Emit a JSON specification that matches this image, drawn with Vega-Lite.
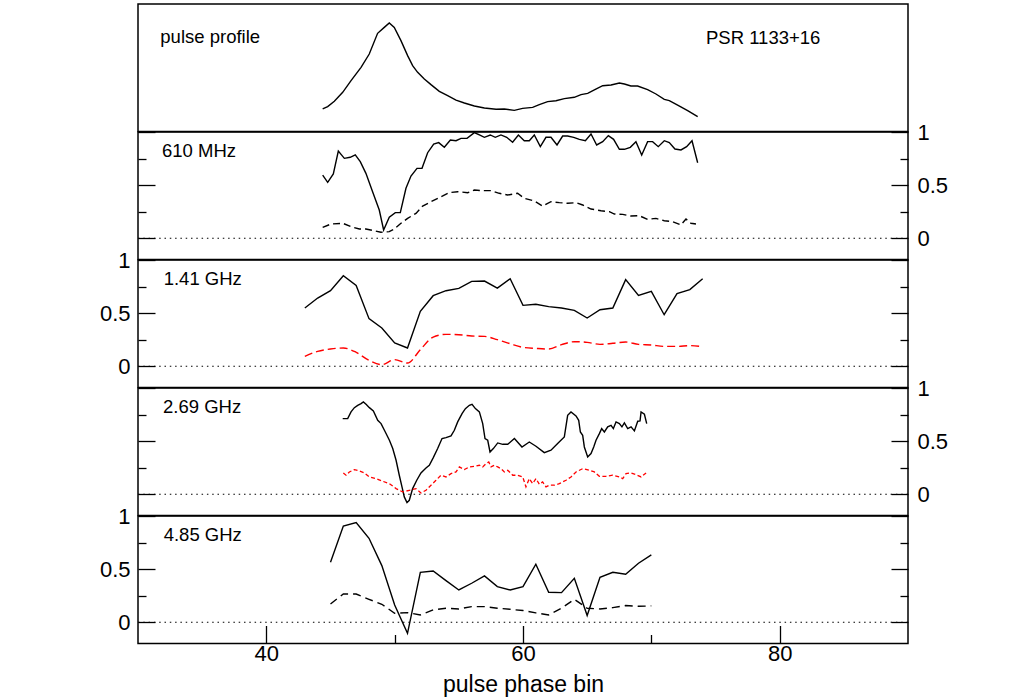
{
  "$schema": "https://vega.github.io/schema/vega-lite/v6.json",
  "padding": {"left": 98, "top": 3, "right": 5, "bottom": 2},
  "spacing": 0,
  "bounds": "flush",
  "datasets": {
    "profile": [
      {"x":44.39,"v":0.012},{"x":44.78,"v":0.034},{"x":45.30,"v":0.084},{"x":45.95,"v":0.169},{"x":46.60,"v":0.278},{"x":47.38,"v":0.404},{"x":48.02,"v":0.529},{"x":48.67,"v":0.724},{"x":49.19,"v":0.780},{"x":49.58,"v":0.821},{"x":49.97,"v":0.780},{"x":50.49,"v":0.655},{"x":51.01,"v":0.514},{"x":51.40,"v":0.420},{"x":51.79,"v":0.357},{"x":52.31,"v":0.294},{"x":52.83,"v":0.241},{"x":53.48,"v":0.178},{"x":54.13,"v":0.137},{"x":54.78,"v":0.096},{"x":55.43,"v":0.068},{"x":56.21,"v":0.040},{"x":56.99,"v":0.021},{"x":57.90,"v":0.009},{"x":58.54,"v":0.012},{"x":59.32,"v":-0.001},{"x":59.97,"v":0.018},{"x":60.75,"v":0.027},{"x":61.27,"v":0.053},{"x":61.92,"v":0.081},{"x":62.57,"v":0.090},{"x":63.22,"v":0.109},{"x":64.00,"v":0.122},{"x":64.52,"v":0.147},{"x":65.04,"v":0.159},{"x":65.56,"v":0.191},{"x":66.21,"v":0.231},{"x":66.86,"v":0.238},{"x":67.51,"v":0.256},{"x":67.90,"v":0.247},{"x":68.41,"v":0.228},{"x":68.93,"v":0.228},{"x":69.71,"v":0.194},{"x":70.36,"v":0.153},{"x":71.01,"v":0.103},{"x":71.40,"v":0.090},{"x":72.05,"v":0.049},{"x":72.83,"v":-0.004},{"x":73.61,"v":-0.060}
    ],
    "f610_tot": [
      {"x":44.39,"v":0.595},{"x":44.78,"v":0.526},{"x":45.22,"v":0.605},{"x":45.61,"v":0.821},{"x":46.08,"v":0.752},{"x":46.54,"v":0.762},{"x":46.93,"v":0.784},{"x":47.32,"v":0.721},{"x":47.76,"v":0.611},{"x":48.28,"v":0.438},{"x":48.80,"v":0.266},{"x":49.14,"v":0.078},{"x":49.58,"v":0.197},{"x":50.05,"v":0.241},{"x":50.44,"v":0.241},{"x":50.88,"v":0.470},{"x":51.27,"v":0.586},{"x":51.74,"v":0.658},{"x":52.13,"v":0.658},{"x":52.57,"v":0.805},{"x":53.04,"v":0.887},{"x":53.43,"v":0.900},{"x":53.87,"v":0.856},{"x":54.34,"v":0.925},{"x":54.78,"v":0.918},{"x":55.17,"v":0.940},{"x":55.64,"v":0.940},{"x":56.21,"v":0.994},{"x":56.60,"v":0.972},{"x":56.99,"v":0.950},{"x":57.45,"v":0.972},{"x":57.84,"v":0.950},{"x":58.28,"v":0.972},{"x":58.73,"v":0.950},{"x":59.19,"v":0.903},{"x":59.64,"v":0.972},{"x":60.10,"v":0.918},{"x":60.49,"v":0.918},{"x":60.88,"v":0.972},{"x":61.35,"v":0.862},{"x":61.79,"v":0.950},{"x":62.18,"v":0.950},{"x":62.65,"v":0.878},{"x":63.09,"v":0.962},{"x":63.48,"v":0.962},{"x":63.95,"v":0.950},{"x":64.39,"v":0.931},{"x":64.86,"v":0.918},{"x":65.30,"v":0.981},{"x":65.74,"v":0.878},{"x":66.21,"v":0.909},{"x":66.65,"v":0.966},{"x":67.06,"v":0.931},{"x":67.51,"v":0.837},{"x":67.90,"v":0.837},{"x":68.36,"v":0.856},{"x":68.80,"v":0.909},{"x":69.25,"v":0.784},{"x":69.71,"v":0.909},{"x":70.10,"v":0.909},{"x":70.54,"v":0.862},{"x":71.01,"v":0.918},{"x":71.40,"v":0.900},{"x":71.84,"v":0.840},{"x":72.31,"v":0.831},{"x":72.75,"v":0.862},{"x":73.17,"v":0.918},{"x":73.61,"v":0.711}
    ],
    "f610_lin": [
      {"x":44.39,"v":0.103},{"x":45.04,"v":0.134},{"x":45.95,"v":0.141},{"x":46.60,"v":0.109},{"x":47.25,"v":0.087},{"x":47.76,"v":0.087},{"x":48.41,"v":0.071},{"x":48.93,"v":0.056},{"x":49.58,"v":0.062},{"x":49.97,"v":0.087},{"x":50.49,"v":0.141},{"x":51.01,"v":0.187},{"x":51.66,"v":0.234},{"x":52.18,"v":0.303},{"x":52.83,"v":0.344},{"x":53.61,"v":0.391},{"x":54.26,"v":0.429},{"x":54.91,"v":0.438},{"x":55.69,"v":0.429},{"x":56.21,"v":0.454},{"x":56.86,"v":0.448},{"x":57.51,"v":0.448},{"x":58.15,"v":0.423},{"x":58.80,"v":0.407},{"x":59.58,"v":0.423},{"x":60.10,"v":0.376},{"x":60.88,"v":0.351},{"x":61.53,"v":0.303},{"x":62.18,"v":0.344},{"x":62.83,"v":0.335},{"x":63.48,"v":0.329},{"x":64.13,"v":0.335},{"x":64.65,"v":0.313},{"x":65.30,"v":0.275},{"x":66.08,"v":0.259},{"x":66.73,"v":0.250},{"x":67.12,"v":0.228},{"x":67.77,"v":0.225},{"x":68.41,"v":0.209},{"x":69.06,"v":0.212},{"x":69.71,"v":0.178},{"x":70.36,"v":0.187},{"x":71.01,"v":0.165},{"x":71.66,"v":0.156},{"x":72.31,"v":0.125},{"x":72.70,"v":0.181},{"x":73.09,"v":0.141},{"x":73.48,"v":0.134}
    ],
    "f141_tot": [
      {"x":43,"v":0.548},{"x":44,"v":0.642},{"x":45,"v":0.711},{"x":46,"v":0.852},{"x":47,"v":0.761},{"x":48,"v":0.448},{"x":49,"v":0.360},{"x":50,"v":0.219},{"x":51,"v":0.172},{"x":52,"v":0.517},{"x":53,"v":0.664},{"x":54,"v":0.711},{"x":55,"v":0.733},{"x":56,"v":0.799},{"x":57,"v":0.802},{"x":58,"v":0.736},{"x":59,"v":0.824},{"x":60,"v":0.573},{"x":61,"v":0.583},{"x":62,"v":0.561},{"x":63,"v":0.548},{"x":64,"v":0.526},{"x":65,"v":0.454},{"x":66,"v":0.532},{"x":67,"v":0.548},{"x":68,"v":0.815},{"x":69,"v":0.667},{"x":70,"v":0.705},{"x":71,"v":0.485},{"x":72,"v":0.683},{"x":73,"v":0.721},{"x":74,"v":0.824}
    ],
    "f141_lin": [
      {"x":43,"v":0.093},{"x":44,"v":0.140},{"x":45,"v":0.162},{"x":46,"v":0.172},{"x":47,"v":0.131},{"x":48,"v":0.056},{"x":49,"v":0.015},{"x":50,"v":0.062},{"x":51,"v":0.030},{"x":52,"v":0.156},{"x":53,"v":0.275},{"x":54,"v":0.300},{"x":55,"v":0.297},{"x":56,"v":0.285},{"x":57,"v":0.281},{"x":58,"v":0.250},{"x":59,"v":0.212},{"x":60,"v":0.178},{"x":61,"v":0.168},{"x":62,"v":0.162},{"x":63,"v":0.203},{"x":64,"v":0.231},{"x":65,"v":0.225},{"x":66,"v":0.206},{"x":67,"v":0.216},{"x":68,"v":0.228},{"x":69,"v":0.206},{"x":70,"v":0.200},{"x":71,"v":0.187},{"x":72,"v":0.187},{"x":73,"v":0.194},{"x":74,"v":0.184}
    ],
    "f269_tot": [
      {"x":45.95,"v":0.712},{"x":46.34,"v":0.712},{"x":46.60,"v":0.775},{"x":46.86,"v":0.815},{"x":47.12,"v":0.837},{"x":47.38,"v":0.853},{"x":47.56,"v":0.869},{"x":47.77,"v":0.847},{"x":48.03,"v":0.815},{"x":48.34,"v":0.784},{"x":48.68,"v":0.696},{"x":48.94,"v":0.665},{"x":49.27,"v":0.586},{"x":49.59,"v":0.508},{"x":49.85,"v":0.430},{"x":50.11,"v":0.320},{"x":50.36,"v":0.179},{"x":50.57,"v":0.069},{"x":50.75,"v":-0.025},{"x":50.96,"v":-0.079},{"x":51.14,"v":-0.057},{"x":51.40,"v":0.053},{"x":51.72,"v":0.132},{"x":52.05,"v":0.201},{"x":52.44,"v":0.248},{"x":52.70,"v":0.273},{"x":53.01,"v":0.345},{"x":53.35,"v":0.430},{"x":53.69,"v":0.524},{"x":54.00,"v":0.533},{"x":54.39,"v":0.549},{"x":54.65,"v":0.602},{"x":54.91,"v":0.681},{"x":55.25,"v":0.759},{"x":55.51,"v":0.806},{"x":55.82,"v":0.837},{"x":56.03,"v":0.847},{"x":56.29,"v":0.806},{"x":56.60,"v":0.775},{"x":56.86,"v":0.665},{"x":57.04,"v":0.524},{"x":57.25,"v":0.508},{"x":57.43,"v":0.398},{"x":57.69,"v":0.430},{"x":58.03,"v":0.483},{"x":58.42,"v":0.470},{"x":58.81,"v":0.470},{"x":59.33,"v":0.524},{"x":59.92,"v":0.445},{"x":60.49,"v":0.492},{"x":61.01,"v":0.452},{"x":61.66,"v":0.392},{"x":62.18,"v":0.414},{"x":62.70,"v":0.477},{"x":63.22,"v":0.539},{"x":63.48,"v":0.743},{"x":63.74,"v":0.775},{"x":64.13,"v":0.737},{"x":64.34,"v":0.696},{"x":64.47,"v":0.586},{"x":64.65,"v":0.555},{"x":64.78,"v":0.445},{"x":65.04,"v":0.351},{"x":65.30,"v":0.383},{"x":65.51,"v":0.445},{"x":65.69,"v":0.508},{"x":65.95,"v":0.571},{"x":66.13,"v":0.618},{"x":66.34,"v":0.586},{"x":66.60,"v":0.634},{"x":66.86,"v":0.649},{"x":67.04,"v":0.618},{"x":67.25,"v":0.681},{"x":67.51,"v":0.665},{"x":67.71,"v":0.634},{"x":67.90,"v":0.671},{"x":68.16,"v":0.618},{"x":68.42,"v":0.634},{"x":68.68,"v":0.596},{"x":68.94,"v":0.687},{"x":69.12,"v":0.690},{"x":69.20,"v":0.775},{"x":69.46,"v":0.753},{"x":69.64,"v":0.665}
    ],
    "f269_lin": [
      {"x":46.00,"v":0.201},{"x":46.21,"v":0.179},{"x":46.47,"v":0.210},{"x":46.86,"v":0.232},{"x":47.25,"v":0.219},{"x":47.64,"v":0.201},{"x":48.03,"v":0.163},{"x":48.55,"v":0.147},{"x":49.07,"v":0.122},{"x":49.59,"v":0.100},{"x":50.11,"v":0.053},{"x":50.62,"v":0.022},{"x":51.14,"v":0.037},{"x":51.66,"v":0.053},{"x":52.05,"v":0.012},{"x":52.44,"v":0.037},{"x":52.83,"v":0.085},{"x":53.22,"v":0.132},{"x":53.61,"v":0.179},{"x":54.00,"v":0.163},{"x":54.39,"v":0.194},{"x":54.78,"v":0.210},{"x":55.04,"v":0.257},{"x":55.43,"v":0.232},{"x":55.82,"v":0.257},{"x":56.21,"v":0.263},{"x":56.60,"v":0.273},{"x":56.86,"v":0.257},{"x":57.12,"v":0.288},{"x":57.33,"v":0.304},{"x":57.51,"v":0.257},{"x":57.77,"v":0.273},{"x":58.03,"v":0.257},{"x":58.29,"v":0.241},{"x":58.55,"v":0.210},{"x":58.81,"v":0.226},{"x":59.20,"v":0.179},{"x":59.59,"v":0.179},{"x":59.98,"v":0.163},{"x":60.23,"v":0.069},{"x":60.49,"v":0.147},{"x":60.75,"v":0.100},{"x":61.01,"v":0.147},{"x":61.27,"v":0.094},{"x":61.53,"v":0.116},{"x":61.79,"v":0.069},{"x":62.05,"v":0.085},{"x":62.44,"v":0.085},{"x":62.83,"v":0.100},{"x":63.35,"v":0.132},{"x":63.74,"v":0.163},{"x":64.13,"v":0.210},{"x":64.65,"v":0.241},{"x":65.17,"v":0.226},{"x":65.56,"v":0.210},{"x":65.95,"v":0.169},{"x":66.47,"v":0.169},{"x":66.99,"v":0.179},{"x":67.51,"v":0.163},{"x":67.77,"v":0.147},{"x":68.03,"v":0.194},{"x":68.42,"v":0.201},{"x":68.81,"v":0.185},{"x":69.20,"v":0.163},{"x":69.59,"v":0.201}
    ],
    "f485_tot": [
      {"x":45,"v":0.565},{"x":46,"v":0.906},{"x":47,"v":0.938},{"x":48,"v":0.790},{"x":49,"v":0.533},{"x":50,"v":0.163},{"x":51,"v":-0.104},{"x":52,"v":0.470},{"x":53,"v":0.483},{"x":54,"v":0.392},{"x":55,"v":0.304},{"x":56,"v":0.367},{"x":57,"v":0.436},{"x":58,"v":0.335},{"x":59,"v":0.304},{"x":60,"v":0.335},{"x":61,"v":0.546},{"x":62,"v":0.282},{"x":63,"v":0.279},{"x":64,"v":0.414},{"x":65,"v":0.063},{"x":66,"v":0.423},{"x":67,"v":0.470},{"x":68,"v":0.452},{"x":69,"v":0.555},{"x":70,"v":0.634}
    ],
    "f485_lin": [
      {"x":45,"v":0.172},{"x":46,"v":0.266},{"x":47,"v":0.266},{"x":48,"v":0.216},{"x":49,"v":0.169},{"x":50,"v":0.085},{"x":51,"v":0.091},{"x":52,"v":0.069},{"x":53,"v":0.116},{"x":54,"v":0.132},{"x":55,"v":0.125},{"x":56,"v":0.147},{"x":57,"v":0.147},{"x":58,"v":0.132},{"x":59,"v":0.122},{"x":60,"v":0.110},{"x":61,"v":0.088},{"x":62,"v":0.069},{"x":63,"v":0.132},{"x":64,"v":0.216},{"x":65,"v":0.132},{"x":66,"v":0.125},{"x":67,"v":0.138},{"x":68,"v":0.157},{"x":69,"v":0.150},{"x":70,"v":0.154}
    ]
  },
  "vconcat": [
    {
      "width": 770,
      "height": 127.5,
      "layer": [
        {
          "data": {"name": "profile"},
          "mark": {"type": "line", "color": "black", "strokeWidth": 1.4},
          "encoding": {
            "x": {"field": "x", "type": "quantitative", "scale": {"domain": [30, 90], "nice": false}, "axis": null},
            "y": {"field": "v", "type": "quantitative", "scale": {"domain": [-0.2, 1], "nice": false, "zero": false}, "axis": null}
          }
        },
        {
          "data": {"values": [{}]},
          "mark": {"type": "text", "align": "left", "baseline": "alphabetic", "font": "Liberation Sans", "fontSize": 18.5, "color": "black"},
          "encoding": {
            "x": {"datum": 31.74, "type": "quantitative", "axis": null},
            "y": {"datum": 0.63, "type": "quantitative", "axis": null},
            "text": {"value": "pulse profile"}
          }
        },
        {
          "data": {"values": [{}]},
          "mark": {"type": "text", "align": "left", "baseline": "alphabetic", "font": "Liberation Sans", "fontSize": 18.5, "color": "black"},
          "encoding": {
            "x": {"datum": 74.26, "type": "quantitative", "axis": null},
            "y": {"datum": 0.62, "type": "quantitative", "axis": null},
            "text": {"value": "PSR 1133+16"}
          }
        }
      ]
    },
    {
      "width": 770,
      "height": 127.5,
      "resolve": {"axis": {"y": "independent"}},
      "layer": [
        {
          "data": {"values": [{}]},
          "mark": {"type": "rule", "color": "black", "strokeWidth": 1.2, "strokeDash": [1.5, 3.8]},
          "encoding": {
            "y": {"datum": 0, "type": "quantitative", "scale": {"domain": [-0.2, 1], "nice": false, "zero": false},
              "axis": {"orient": "left", "title": null, "values": [0, 0.25, 0.5, 0.75, 1], "labels": false,
                "tickSize": {"condition": {"test": "datum.value % 0.5 !== 0", "value": -8}, "value": -17}}}
          }
        },
        {
          "data": {"name": "f610_tot"},
          "mark": {"type": "line", "color": "black", "strokeWidth": 1.4},
          "encoding": {
            "x": {"field": "x", "type": "quantitative", "scale": {"domain": [30, 90], "nice": false}, "axis": null},
            "y": {"field": "v", "type": "quantitative",
              "axis": {"orient": "right", "title": null, "values": [0, 0.25, 0.5, 0.75, 1], "format": "~g", "labelPadding": 26,
                "labelExpr": "datum.value % 0.5 === 0 ? datum.label : ''",
                "tickSize": {"condition": {"test": "datum.value % 0.5 !== 0", "value": -8}, "value": -17}}}
          }
        },
        {
          "data": {"name": "f610_lin"},
          "mark": {"type": "line", "color": "black", "strokeWidth": 1.4, "strokeDash": [7, 4]},
          "encoding": {
            "x": {"field": "x", "type": "quantitative", "axis": null},
            "y": {"field": "v", "type": "quantitative", "axis": null}
          }
        },
        {
          "data": {"values": [{}]},
          "mark": {"type": "text", "align": "left", "baseline": "alphabetic", "font": "Liberation Sans", "fontSize": 18.5, "color": "black"},
          "encoding": {
            "x": {"datum": 31.87, "type": "quantitative", "axis": null},
            "y": {"datum": 0.765, "type": "quantitative", "axis": null},
            "text": {"value": "610 MHz"}
          }
        }
      ]
    },
    {
      "width": 770,
      "height": 127.5,
      "resolve": {"axis": {"y": "independent"}},
      "layer": [
        {
          "data": {"values": [{}]},
          "mark": {"type": "rule", "color": "black", "strokeWidth": 1.2, "strokeDash": [1.5, 3.8]},
          "encoding": {
            "y": {"datum": 0, "type": "quantitative", "scale": {"domain": [-0.2, 1], "nice": false, "zero": false},
              "axis": {"orient": "left", "title": null, "values": [0, 0.25, 0.5, 0.75, 1], "format": "~g", "labelPadding": 25,
                "labelExpr": "datum.value % 0.5 === 0 ? datum.label : ''",
                "tickSize": {"condition": {"test": "datum.value % 0.5 !== 0", "value": -8}, "value": -17}}}
          }
        },
        {
          "data": {"name": "f141_tot"},
          "mark": {"type": "line", "color": "black", "strokeWidth": 1.4},
          "encoding": {
            "x": {"field": "x", "type": "quantitative", "scale": {"domain": [30, 90], "nice": false}, "axis": null},
            "y": {"field": "v", "type": "quantitative",
              "axis": {"orient": "right", "title": null, "values": [0, 0.25, 0.5, 0.75, 1], "labels": false,
                "tickSize": {"condition": {"test": "datum.value % 0.5 !== 0", "value": -8}, "value": -17}}}
          }
        },
        {
          "data": {"name": "f141_lin"},
          "mark": {"type": "line", "color": "red", "strokeWidth": 1.4, "strokeDash": [8, 4], "interpolate": "monotone"},
          "encoding": {
            "x": {"field": "x", "type": "quantitative", "axis": null},
            "y": {"field": "v", "type": "quantitative", "axis": null}
          }
        },
        {
          "data": {"values": [{}]},
          "mark": {"type": "text", "align": "left", "baseline": "alphabetic", "font": "Liberation Sans", "fontSize": 18.5, "color": "black"},
          "encoding": {
            "x": {"datum": 32.0, "type": "quantitative", "axis": null},
            "y": {"datum": 0.765, "type": "quantitative", "axis": null},
            "text": {"value": "1.41 GHz"}
          }
        }
      ]
    },
    {
      "width": 770,
      "height": 127.5,
      "resolve": {"axis": {"y": "independent"}},
      "layer": [
        {
          "data": {"values": [{}]},
          "mark": {"type": "rule", "color": "black", "strokeWidth": 1.2, "strokeDash": [1.5, 3.8]},
          "encoding": {
            "y": {"datum": 0, "type": "quantitative", "scale": {"domain": [-0.2, 1], "nice": false, "zero": false},
              "axis": {"orient": "left", "title": null, "values": [0, 0.25, 0.5, 0.75, 1], "labels": false,
                "tickSize": {"condition": {"test": "datum.value % 0.5 !== 0", "value": -8}, "value": -17}}}
          }
        },
        {
          "data": {"name": "f269_tot"},
          "mark": {"type": "line", "color": "black", "strokeWidth": 1.4},
          "encoding": {
            "x": {"field": "x", "type": "quantitative", "scale": {"domain": [30, 90], "nice": false}, "axis": null},
            "y": {"field": "v", "type": "quantitative",
              "axis": {"orient": "right", "title": null, "values": [0, 0.25, 0.5, 0.75, 1], "format": "~g", "labelPadding": 26,
                "labelExpr": "datum.value % 0.5 === 0 ? datum.label : ''",
                "tickSize": {"condition": {"test": "datum.value % 0.5 !== 0", "value": -8}, "value": -17}}}
          }
        },
        {
          "data": {"name": "f269_lin"},
          "mark": {"type": "line", "color": "red", "strokeWidth": 1.3, "strokeDash": [4, 2.5]},
          "encoding": {
            "x": {"field": "x", "type": "quantitative", "axis": null},
            "y": {"field": "v", "type": "quantitative", "axis": null}
          }
        },
        {
          "data": {"values": [{}]},
          "mark": {"type": "text", "align": "left", "baseline": "alphabetic", "font": "Liberation Sans", "fontSize": 18.5, "color": "black"},
          "encoding": {
            "x": {"datum": 31.95, "type": "quantitative", "axis": null},
            "y": {"datum": 0.765, "type": "quantitative", "axis": null},
            "text": {"value": "2.69 GHz"}
          }
        }
      ]
    },
    {
      "width": 770,
      "height": 127.5,
      "resolve": {"axis": {"y": "independent"}},
      "layer": [
        {
          "data": {"values": [{}]},
          "mark": {"type": "rule", "color": "black", "strokeWidth": 1.2, "strokeDash": [1.5, 3.8]},
          "encoding": {
            "y": {"datum": 0, "type": "quantitative", "scale": {"domain": [-0.2, 1], "nice": false, "zero": false},
              "axis": {"orient": "left", "title": null, "values": [0, 0.25, 0.5, 0.75, 1], "format": "~g", "labelPadding": 25,
                "labelExpr": "datum.value % 0.5 === 0 ? datum.label : ''",
                "tickSize": {"condition": {"test": "datum.value % 0.5 !== 0", "value": -8}, "value": -17}}}
          }
        },
        {
          "data": {"name": "f485_tot"},
          "mark": {"type": "line", "color": "black", "strokeWidth": 1.4},
          "encoding": {
            "x": {"field": "x", "type": "quantitative", "scale": {"domain": [30, 90], "nice": false}, "title": "pulse phase bin",
              "axis": {"values": [40, 50, 60, 70, 80], "format": "d", "labelPadding": 18, "labelFlush": false,
                "labelExpr": "datum.value % 20 === 0 ? datum.label : ''", "titlePadding": 9,
                "tickSize": {"condition": {"test": "datum.value % 20 !== 0", "value": -9}, "value": -18}}},
            "y": {"field": "v", "type": "quantitative",
              "axis": {"orient": "right", "title": null, "values": [0, 0.25, 0.5, 0.75, 1], "labels": false,
                "tickSize": {"condition": {"test": "datum.value % 0.5 !== 0", "value": -8}, "value": -17}}}
          }
        },
        {
          "data": {"name": "f485_lin"},
          "mark": {"type": "line", "color": "black", "strokeWidth": 1.4, "strokeDash": [8, 5]},
          "encoding": {
            "x": {"field": "x", "type": "quantitative", "title": "pulse phase bin",
              "axis": {"values": [40, 50, 60, 70, 80], "format": "d", "labelPadding": 18, "labelFlush": false,
                "labelExpr": "datum.value % 20 === 0 ? datum.label : ''", "titlePadding": 9,
                "tickSize": {"condition": {"test": "datum.value % 20 !== 0", "value": -9}, "value": -18}}},
            "y": {"field": "v", "type": "quantitative", "axis": null}
          }
        },
        {
          "data": {"values": [{}]},
          "mark": {"type": "text", "align": "left", "baseline": "alphabetic", "font": "Liberation Sans", "fontSize": 18.5, "color": "black"},
          "encoding": {
            "x": {"datum": 32.0, "type": "quantitative", "title": "pulse phase bin",
              "axis": {"values": [40, 50, 60, 70, 80], "format": "d", "labelPadding": 18, "labelFlush": false,
                "labelExpr": "datum.value % 20 === 0 ? datum.label : ''", "titlePadding": 9,
                "tickSize": {"condition": {"test": "datum.value % 20 !== 0", "value": -9}, "value": -18}}},
            "y": {"datum": 0.765, "type": "quantitative", "axis": null},
            "text": {"value": "4.85 GHz"}
          }
        }
      ]
    }
  ],
  "config": {
    "view": {"stroke": "black", "strokeWidth": 1.5},
    "axis": {
      "domain": false,
      "grid": false,
      "tickColor": "black",
      "tickWidth": 1.3,
      "labelFont": "Liberation Sans",
      "labelFontSize": 22,
      "labelColor": "black",
      "titleFont": "Liberation Sans",
      "titleFontSize": 23,
      "titleFontWeight": "normal",
      "titleColor": "black"
    }
  }
}
